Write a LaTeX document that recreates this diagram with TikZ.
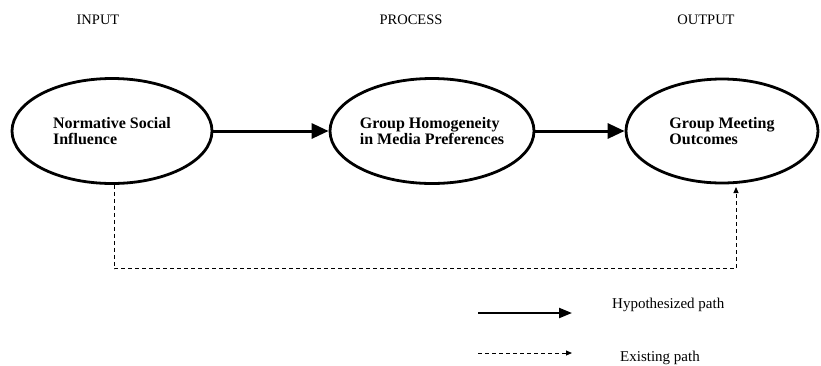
\documentclass[tikz,border=0pt]{standalone}
\usepackage{fontspec}
\setmainfont{Liberation Serif}
\usepackage{tikz}
\usetikzlibrary{shapes.geometric,arrows.meta}

\begin{document}
\begin{tikzpicture}[x=1pt,y=-1pt,
        stage/.style={ellipse,draw,line width=2.8pt,align=left,inner sep=0pt,
            font=\fontsize{16}{15.5}\selectfont\bfseries},
        heading/.style={font=\fontsize{14.5}{16}\selectfont},
        legendtext/.style={anchor=west,inner sep=0pt,font=\fontsize{15}{17}\selectfont},
        hyp/.style={line width=3pt,-{Triangle[length=17pt,width=15pt]}},
        hypkey/.style={line width=2.2pt,-{Triangle[length=13pt,width=10pt]}},
        exist/.style={line width=1pt,dash pattern=on 4pt off 3pt,-{Triangle[length=6pt,width=5pt]}}]
        \useasboundingbox (0,0) rectangle (821,365);
        \node[heading] (input) at (98,20) {INPUT};
        \node[heading] (process) at (411,20) {PROCESS};
        \node[heading] (output) at (706,20) {OUTPUT};
        \node[stage,minimum width=200pt,minimum height=105pt] (nsi) at (112,131) {Normative Social\\Influence}; % input
        \node[stage,minimum width=201pt,minimum height=105pt] (ghm) at (432,131) {Group Homogeneity\\in Media Preferences}; % process
        \node[stage,minimum width=192pt,minimum height=104pt] (gmo) at (722,131) {Group Meeting\\Outcomes}; % output
        \coordinate (tip) at (736,187);
        \draw[hyp] (nsi.east) -- (ghm.west); % Hypothesized
        \draw[hyp] (ghm.east) -- (gmo.west); % Hypothesized
        \draw[exist] ([xshift=2pt]nsi.south) -- ++(0,84) -| (tip); % Existing
        \coordinate (h1) at (478,313);
        \coordinate (h2) at (572,313);
        \coordinate (e1) at (478,353);
        \coordinate (e2) at (572,353);
        \draw[hypkey] (h1) -- (h2); % legend
        \draw[exist] (e1) -- (e2); % legend
        \node[legendtext] (hyplabel) at (612,305) {Hypothesized path};
        \node[legendtext] (existlabel) at (620,358) {Existing path};
    \end{tikzpicture}
\end{document}
